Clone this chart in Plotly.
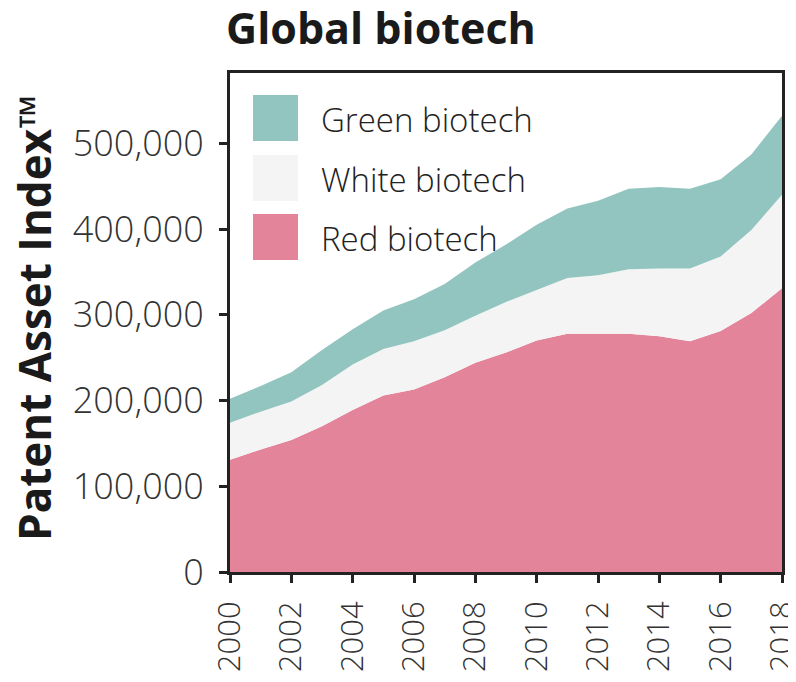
import plotly.graph_objects as go

years = list(range(2000, 2019))
red = [131000, 143000, 154000, 170000, 189000, 206000, 213000, 227000, 244000, 256000,
       270000, 278000, 278000, 278000, 275000, 269000, 281000, 302000, 331000]
white_top = [174000, 187000, 199000, 218000, 242000, 260000, 269000, 282000, 299000, 315000,
             329000, 343000, 346000, 353000, 354000, 354000, 368000, 399000, 440000]
green_top = [202000, 217000, 233000, 259000, 283000, 305000, 318000, 336000, 361000, 382000,
             405000, 424000, 433000, 447000, 449000, 447000, 458000, 487000, 532000]
white = [w - r for w, r in zip(white_top, red)]
green = [g - w for g, w in zip(green_top, white_top)]

series_names = ["Red biotech", "White biotech", "Green biotech"]
series_vals = [red, white, green]
colors = ["#E3849A", "#F4F4F4", "#93C5C0"]

FONT = "Open Sans"

fig = go.Figure()
for name, vals, c in zip(series_names, series_vals, colors):
    fig.add_trace(go.Scatter(x=years, y=vals, name=name, stackgroup="one", mode="lines",
                             line=dict(width=0, color=c), fillcolor=c, showlegend=False))

# page has an 8px body margin; figure sized so that the plot area lands at 230..782 x 73..572
W, H = 796, 666
OFF = 8
PL, PR, PT, PB = 230, 782, 73, 572
ml, mt = PL - OFF, PT - OFF
mr = W - (PR - OFF)
mb = H - (PB - OFF)
pw, ph = PR - PL, PB - PT

def px(x):
    return (x - PL) / pw

def py(y):
    return 1 - (y - PT) / ph

# custom legend (large swatches)
legend_items = ["Green biotech", "White biotech", "Red biotech"]
legend_colors = ["#93C5C0", "#F4F4F4", "#E3849A"]
y_tops = [95, 155, 214]
for lab, c, yt in zip(legend_items, legend_colors, y_tops):
    fig.add_shape(type="rect", xref="paper", yref="paper",
                  x0=px(253), x1=px(298), y0=py(yt + 46), y1=py(yt),
                  fillcolor=c, line=dict(width=0))
    fig.add_annotation(xref="paper", yref="paper", x=px(319), y=py(yt + 24),
                       text=lab, showarrow=False, xanchor="left", yanchor="middle",
                       font=dict(family=FONT, size=33, color="#222222", weight=300))

# y-axis title placed as a rotated annotation
fig.add_annotation(xref="paper", yref="paper", x=px(34), y=py(318),
                   text="<b>Patent Asset Index™</b>", textangle=-90, showarrow=False,
                   xanchor="center", yanchor="middle",
                   font=dict(family=FONT, size=44, color="#1a1a1a"))

fig.update_layout(
    width=W, height=H,
    margin=dict(l=ml, r=mr, t=mt, b=mb, autoexpand=False),
    paper_bgcolor="white", plot_bgcolor="white",
    title=dict(text="<b>Global biotech</b>", x=(226 - OFF) / W, xanchor="left",
               yref="container", y=1 - 6 / H, yanchor="top", pad=dict(t=0),
               font=dict(family=FONT, size=43, color="#1a1a1a")),
    xaxis=dict(range=[2000, 2018], tickmode="linear", tick0=2000, dtick=2, tickangle=-90,
               showgrid=False, zeroline=False, showline=True, linecolor="#222222", linewidth=3,
               mirror=True, ticks="outside", ticklen=8, tickwidth=2.5, tickcolor="#222222",
               ticklabelstandoff=6, ticklabeloverflow="allow", automargin=False,
               tickfont=dict(family=FONT, size=31, color="#333333", weight=300)),
    yaxis=dict(range=[0, 582000], tickmode="linear", tick0=0, dtick=100000, tickformat=",d",
               showgrid=False, zeroline=False, showline=True, linecolor="#222222", linewidth=3,
               mirror=True, ticks="outside", ticklen=8, tickwidth=2.5, tickcolor="#222222",
               ticklabelstandoff=8, automargin=False,
               tickfont=dict(family=FONT, size=36, color="#333333", weight=300)),
)
fig.write_html("out.html")
